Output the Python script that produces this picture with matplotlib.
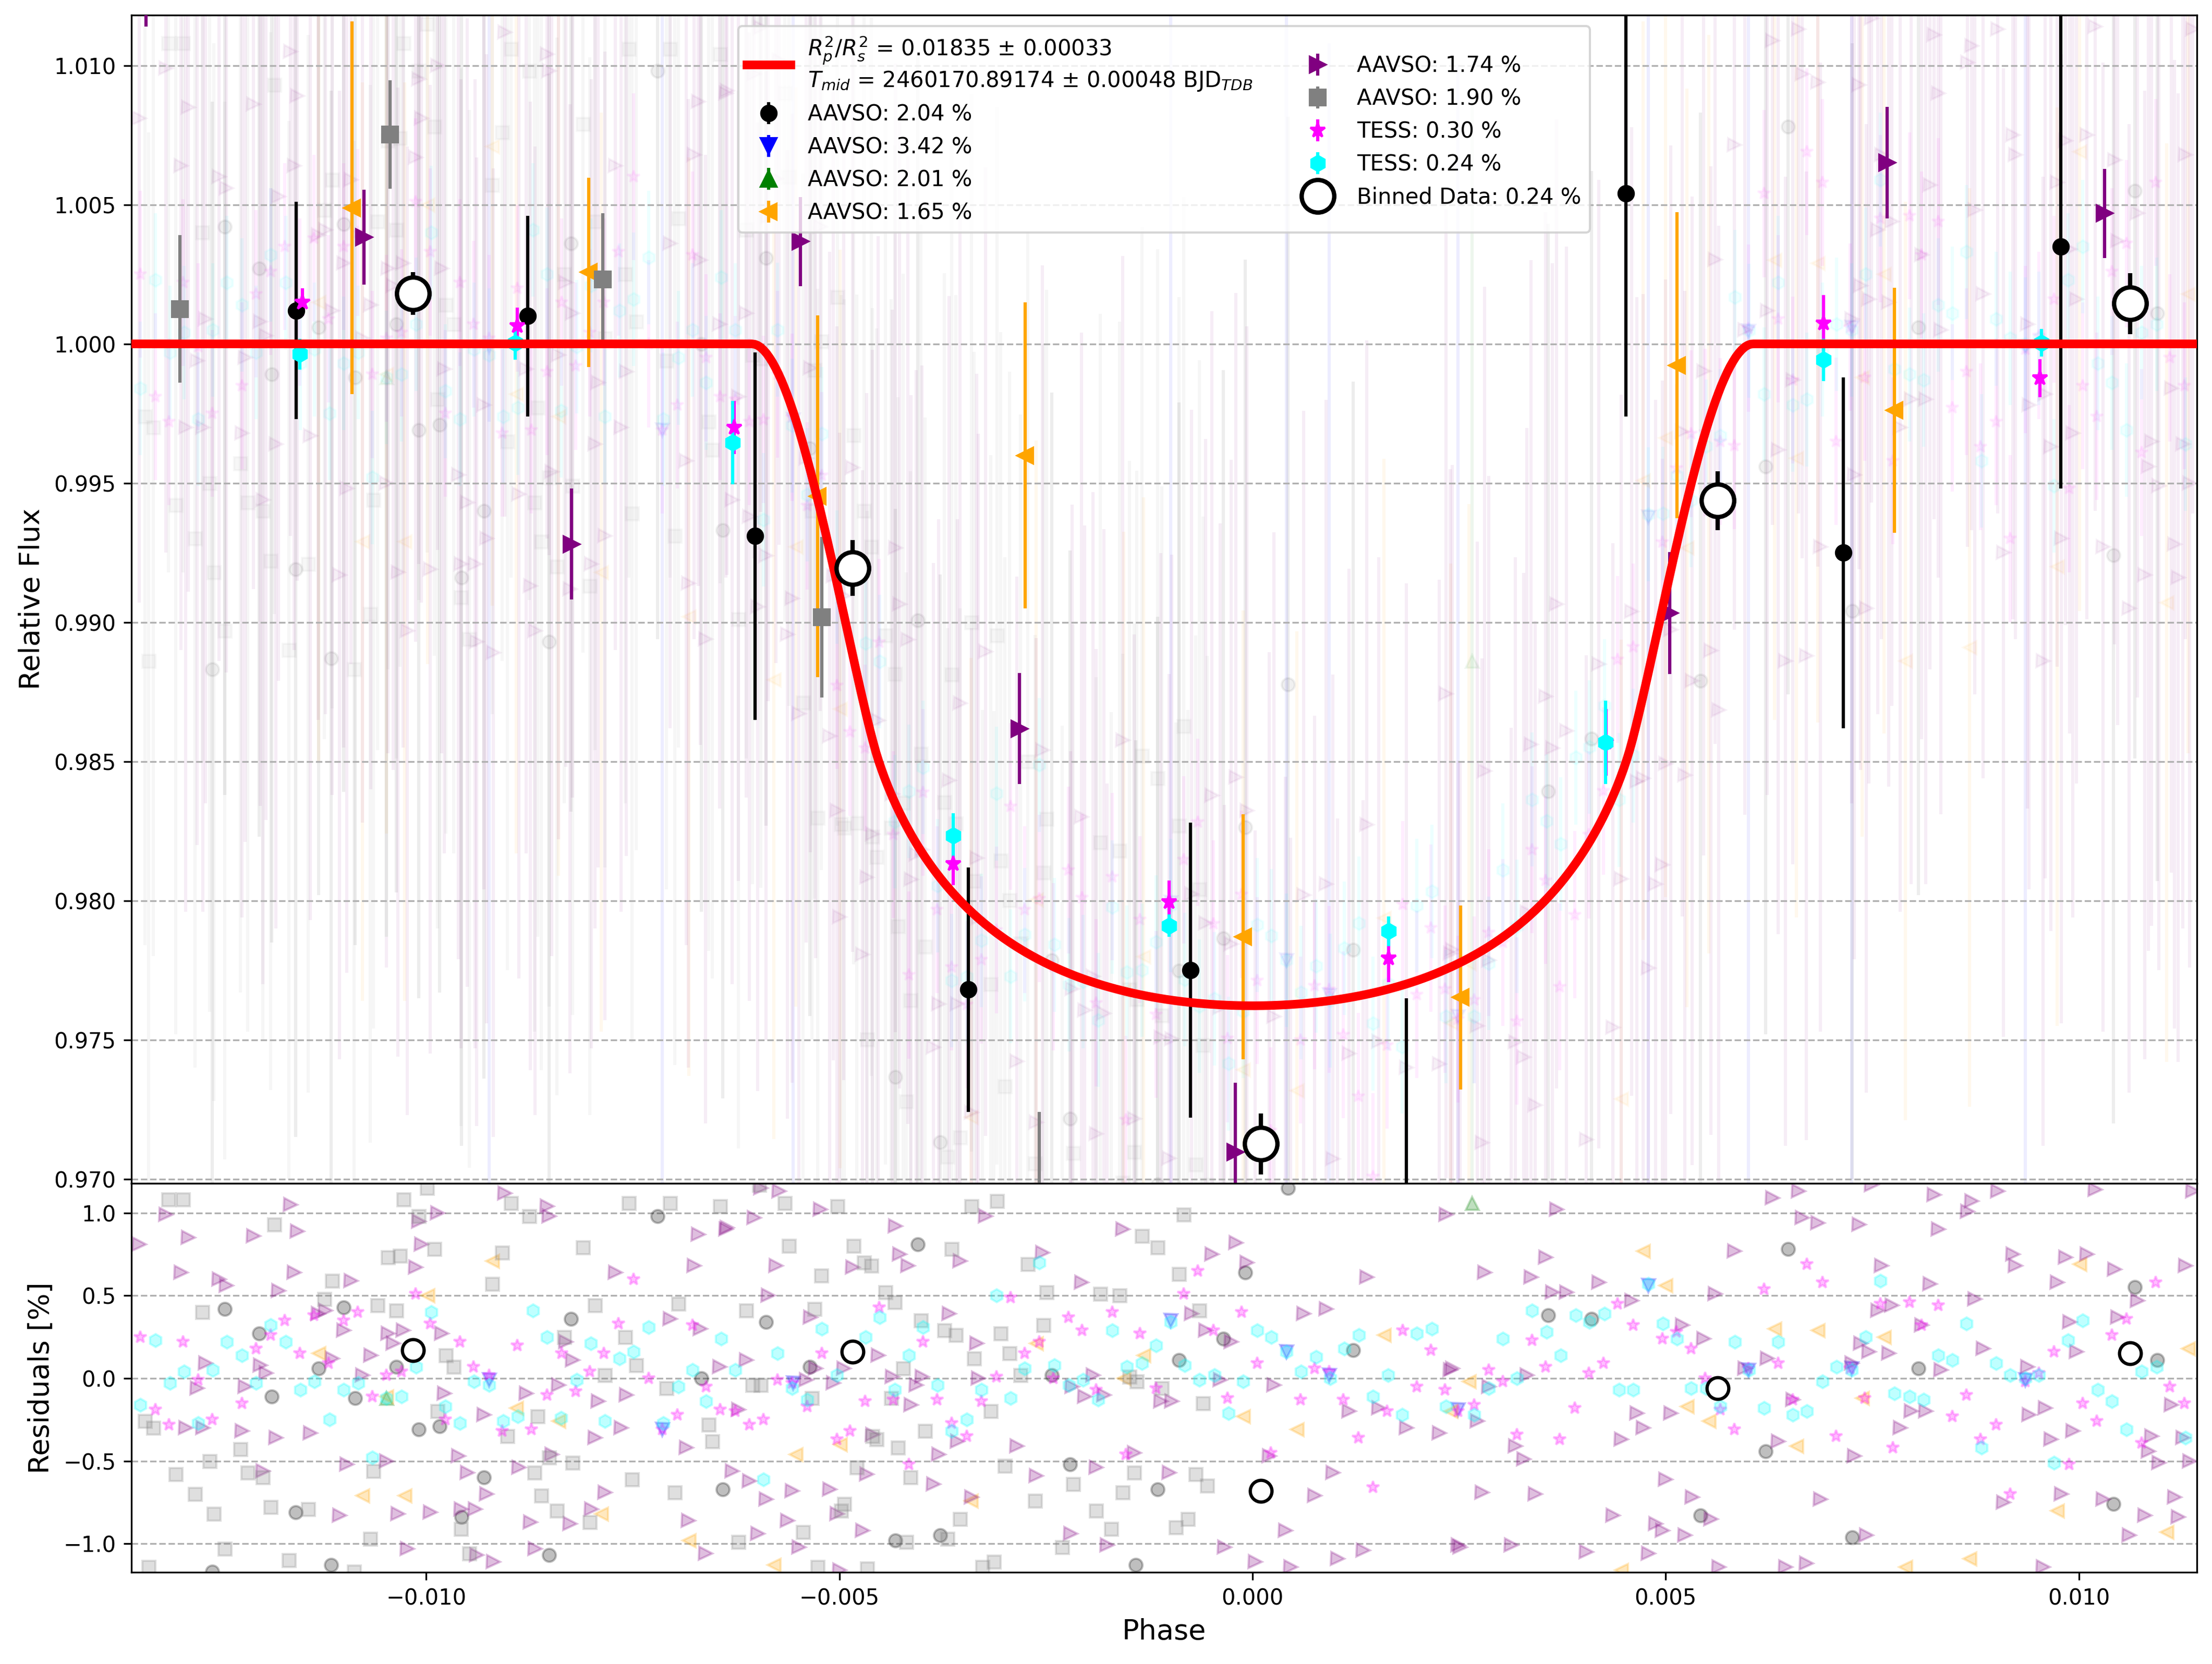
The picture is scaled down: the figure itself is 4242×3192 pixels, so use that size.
import numpy as np
import matplotlib.pyplot as plt

# transit model (Rp^2/Rs^2 from the fit, shape)
rp2 = 0.01835
a_rs = 29.4
b_imp = 0.2
u1, u2 = 0.45, 0.52


def transit_flux(phase):
    phase = np.atleast_1d(np.asarray(phase, dtype=float))
    k = np.sqrt(rp2)
    ang = 2 * np.pi * phase
    z = np.sqrt((a_rs * np.sin(ang)) ** 2 + (b_imp * np.cos(ang)) ** 2)
    n = 100
    g = (np.arange(n) + 0.5) / n * 2 * k - k
    gx, gy = np.meshgrid(g, g)
    inside = gx ** 2 + gy ** 2 <= k ** 2
    gx, gy = gx[inside], gy[inside]
    dA = (2 * k / n) ** 2
    r2 = (z[:, None] + gx[None, :]) ** 2 + gy[None, :] ** 2
    mu = np.sqrt(np.clip(1 - r2, 0, None))
    inten = np.where(r2 < 1, 1 - u1 * (1 - mu) - u2 * (1 - mu) ** 2, 0.0)
    blocked = inten.sum(axis=1) * dA
    return 1 - blocked / (np.pi * (1 - u1 / 3 - u2 / 6))


# ---- raw data: phase and residual [%] per dataset ----
purple_ph = [-0.01347, -0.01315, -0.01288, -0.01297, -0.01251, -0.01242, -0.01209, -0.01179, -0.01164, -0.01156,
             -0.01160, -0.01267, -0.01277, -0.01291, -0.01270, -0.01219, -0.01223, -0.01201, -0.01194, -0.01182,
             -0.01140, -0.01122, -0.01131, -0.01100, -0.01091, -0.01114, -0.01067, -0.01077, -0.01046, -0.01028,
             -0.01040, -0.01013, -0.01009, -0.01006, -0.00986, -0.00981, -0.00978, -0.00961, -0.00950, -0.00927,
             -0.00930, -0.00888, -0.00879, -0.00905, -0.00854, -0.00851, -0.00831, -0.00823, -0.00840, -0.00792,
             -0.00796, -0.00771, -0.00758, -0.00764, -0.00685, -0.00676, -0.00671, -0.00705, -0.00668, -0.00645,
             -0.00637, -0.00683, -0.00662, -0.00826, -0.00874, -0.00939, -0.00919, -0.00868, -0.00800, -0.00784,
             -0.00995, -0.01034, -0.01023, -0.01048, -0.01096, -0.01105, -0.01198, -0.00958, -0.00848, -0.00941,
             -0.00595, -0.00573, -0.00603, -0.00636, -0.00523, -0.00432, -0.00577, -0.00484, -0.00427, -0.00417,
             -0.00354, -0.00323, -0.00254, -0.00157, -0.00207, -0.00020, -0.00049, -0.00007, 0.00138, 0.00234,
             -0.00586, -0.00535, -0.00367, -0.00334, -0.00453, -0.00613, -0.00495, -0.00529, -0.00540, -0.00507,
             -0.00436, -0.00400, -0.00407, -0.00332, -0.00413, -0.00622, -0.00193, -0.00218, -0.00203, -0.00180,
             -0.00111, -0.00098, -0.00074, -0.00057, -0.00026, -0.00039, 0.00026, 0.00062, 0.00089, 0.00239,
             0.00117, 0.00153, 0.00186, 0.00226, -0.00460, -0.00357, -0.00285, -0.00380, -0.00143, 0.00020,
             -0.00630, -0.00609, -0.00557, -0.00512, -0.00467, -0.00386, -0.00262, -0.00189, -0.00101, 0.00097,
             0.00075, -0.00589, -0.00503, -0.00563, -0.00599, -0.00472, -0.00340, -0.00220, -0.00549, -0.00176,
             -0.00034, 0.00040, 0.00003, 0.00046, 0.00103, 0.00134, 0.00249, -0.00500,
             0.00368, 0.00629, 0.00661, 0.00749, 0.00825, 0.00870, 0.00865, 0.00902, 0.01020, 0.01138,
             0.00665, 0.00684, 0.00734, 0.00830, 0.00583, 0.00355, 0.00281, 0.00337, 0.00419, 0.00363,
             0.00380, 0.00459, 0.00560, 0.00761, 0.00820, 0.00920, 0.00923, 0.00984, 0.01010, 0.01043,
             0.01129, 0.00974, 0.00874, 0.01071, 0.00774, 0.00757, 0.00989, 0.01047, 0.00810, 0.00520,
             0.00546, 0.00736, 0.00746, 0.00770, 0.00884, 0.00997, 0.00623, 0.00596, 0.00725, 0.00938,
             0.00833, 0.00242, 0.00332, 0.00286, 0.00654, 0.00465, 0.00506, 0.00797, 0.00815, 0.00940,
             0.00959, 0.01112, 0.00272, 0.00473, 0.00784, 0.00993, 0.00318, 0.00446, 0.00636, 0.00966,
             0.01088, 0.01126, 0.01084, 0.00328, 0.00728, 0.01097, 0.01134, 0.00500, 0.00278, 0.00342,
             0.00532, 0.00687, 0.00909, 0.00979, 0.01029, 0.01116, 0.00436, 0.00488, 0.00496, 0.00555,
             0.00523, 0.00743, 0.01080, 0.01120, 0.01061, 0.00251, 0.00313, 0.00404, 0.00479, 0.00564,
             0.00645, 0.00670, 0.00957]
purple_res = [0.81, 0.99, 0.85, 0.64, 0.60, 0.56, 0.86, 0.53, 1.05, 0.89,
              0.64, 0.09, -0.06, -0.30, -0.30, -0.05, -0.32, 0.08, 0.03, -0.36,
              -0.33, 0.41, 0.39, 0.29, 0.59, 0.12, 0.14, 0.02, 0.27, 0.29,
              0.21, 0.67, 0.95, 0.81, 1.00, 0.27, -0.09, -0.47, -0.57, -0.70,
              -0.22, -0.54, -0.09, 1.12, 1.04, 0.98, 0.22, 0.11, -0.04, -0.14,
              -0.36, 0.64, -0.10, -0.30, -0.42, 0.68, 0.87, 0.36, 0.30, 0.07,
              0.90, -0.86, -1.06, -0.88, -0.87, -1.07, -1.11, -1.03, -0.79, -0.69,
              -0.81, -0.82, -1.03, -0.50, -0.52, -0.83, -0.56, -0.79, -0.46, -0.79,
              1.15, 1.13, 0.97, 0.91, 1.02, 0.92, 0.68, 0.67, 0.75, 0.68,
              0.71, 0.98, 0.76, 0.90, 0.58, 0.82, 0.75, 0.70, 0.61, 0.99,
              0.50, 0.37, 0.39, 0.21, 0.14, 0.11, 0.06, 0.06, -0.01, -0.03,
              0.01, 0.01, -0.04, 0.00, -0.16, -0.19, 0.02, -0.05, -0.11, -0.10,
              -0.14, -0.14, 0.39, 0.29, 0.22, -0.01, -0.04, 0.39, 0.42, 0.05,
              -0.20, -0.18, -0.30, -0.33, -0.34, -0.38, -0.41, -0.46, -0.45, -0.47,
              -0.56, -0.62, -0.68, -0.67, -0.58, -0.64, -0.59, -0.54, -0.57, -0.57,
              -0.71, -0.73, -0.82, -0.86, -0.94, -0.92, -0.72, -0.94, -1.02, -1.01,
              -1.02, -0.92, -1.11, -1.14, -1.09, -1.04, -1.01, -1.16,
              1.02, 1.09, 1.13, 1.17, 1.11, 1.07, 1.01, 1.13, 1.14, 1.13,
              0.97, 0.94, 0.93, 0.90, 0.77, 0.73, 0.64, 0.61, 0.58, 0.52,
              0.52, 0.47, 0.51, 0.68, 0.57, 0.75, 0.68, 0.73, 0.75, 0.66,
              0.68, 0.58, 0.48, 0.47, 0.44, 0.41, 0.34, 0.37, 0.32, 0.32,
              0.24, 0.21, 0.16, 0.15, 0.18, 0.16, 0.12, 0.06, 0.09, 0.07,
              0.05, 0.06, 0.02, -0.05, -0.13, -0.21, -0.21, -0.20, -0.20, -0.22,
              -0.18, -0.16, -0.26, -0.30, -0.30, -0.32, -0.41, -0.37, -0.38, -0.37,
              -0.35, -0.36, -0.44, -0.49, -0.47, -0.51, -0.50, -0.61, -0.69, -0.70,
              -0.72, -0.73, -0.75, -0.70, -0.73, -0.72, -0.83, -0.88, -0.92, -0.85,
              -0.95, -0.95, -0.83, -0.84, -0.95, -1.02, -1.01, -1.05, -1.06, -1.14,
              -1.14, -1.12, -1.14]

gray_ph = [-0.01312, -0.01294, -0.01184, -0.01271, -0.01123, -0.01114, -0.01059, -0.01036, -0.01046, -0.01032,
           -0.01027, -0.01009, -0.00999, -0.00990, -0.00920, -0.00908, -0.00897, -0.00875, -0.00810, -0.00796,
           -0.00755, -0.00705, -0.00695, -0.00644, -0.00759, -0.00746, -0.00833, -0.00784, -0.00976, -0.00967,
           -0.00986, -0.00865, -0.00902, -0.00709, -0.00658, -0.00654, -0.01340, -0.01330, -0.01225, -0.01262,
           -0.01303, -0.01216, -0.01198, -0.01280, -0.01257, -0.01188, -0.01143, -0.01064, -0.00851, -0.00823,
           -0.00869, -0.00861, -0.00842, -0.00802, -0.00751, -0.00699, -0.01068, -0.01244, -0.01166, -0.01336,
           -0.01087, -0.00958, -0.00948,
           -0.00597, -0.00566, -0.00502, -0.00340, -0.00309, -0.00083, -0.00134, -0.00115, -0.00561, -0.00483,
           -0.00470, -0.00461, -0.00364, -0.00272, -0.00522, -0.00089, -0.00444, -0.00433, -0.00249, -0.00184,
           -0.00161, -0.00613, -0.00530, -0.00401, -0.00373, -0.00359, -0.00305, -0.00253, -0.00064, -0.00337,
           -0.00294, -0.00423, -0.00281, -0.00605, -0.00595, -0.00149, -0.00140, -0.00110, -0.00533, -0.00437,
           -0.00317, -0.00060, -0.00460, -0.00455, -0.00429, -0.00396, -0.00300, -0.00479, -0.00414, -0.00217,
           -0.00143, -0.00157, -0.00069, -0.00055, -0.00263, -0.00494, -0.00498, -0.00354, -0.00189, -0.00544,
           -0.00171, -0.00093, -0.00078, -0.00622, -0.00419, -0.00369, -0.00230, -0.00526, -0.00466, -0.00327,
           -0.00313]
gray_res = [1.08, 1.08, 0.93, 0.40, 0.48, 0.59, 0.44, 0.41, 0.73, 0.74,
            1.08, 0.98, 1.15, 0.78, 0.57, 0.76, 1.06, 0.98, 0.79, 0.44,
            1.06, 1.06, 0.45, 1.04, 0.25, 0.08, 0.25, 0.02, 0.14, 0.07,
            -0.20, -0.23, -0.35, -0.06, -0.28, -0.38, -0.26, -0.30, -0.43, -0.50,
            -0.58, -0.57, -0.60, -0.70, -0.82, -0.78, -0.79, -0.56, -0.48, -0.51,
            -0.57, -0.71, -0.80, -0.87, -0.61, -0.69, -0.97, -1.03, -1.10, -1.14,
            -1.17, -0.91, -1.06,
            1.17, 1.06, 1.04, 1.04, 1.07, 0.99, 0.86, 0.79, 0.80, 0.80,
            0.70, 0.68, 0.78, 0.69, 0.62, 0.63, 0.52, 0.46, 0.52, 0.51,
            0.50, 0.41, 0.42, 0.35, 0.29, 0.26, 0.27, 0.32, 0.41, 0.12,
            0.15, 0.06, 0.02, -0.04, -0.04, 0.01, -0.02, -0.06, -0.12, -0.12,
            -0.20, -0.15, -0.35, -0.37, -0.42, -0.32, -0.53, -0.54, -0.60, -0.64,
            -0.57, -0.69, -0.58, -0.65, -0.74, -0.76, -0.80, -0.85, -0.80, -0.93,
            -0.91, -0.90, -0.85, -0.99, -0.99, -0.97, -1.02, -1.14, -1.15, -1.14,
            -1.11]

black_ph = [-0.01244, -0.01100, -0.01202, -0.01130, -0.01036, -0.01187, -0.01086, -0.01009, -0.00984, -0.00825,
            -0.00720, -0.00667, -0.00930, -0.01158, -0.00957, -0.01115, -0.00851, -0.00641, -0.01259,
            0.00043, -0.00405, -0.00009, -0.00589, -0.00536, -0.00243, -0.00089, -0.00035, 0.00122, -0.00221,
            -0.00115, -0.00432, -0.00378, -0.00141,
            0.00648, 0.01068, 0.00358, 0.00410, 0.00806, 0.01095, 0.00621, 0.00542, 0.00726, 0.01042]
black_res = [0.42, 0.43, 0.27, 0.06, 0.07, -0.11, -0.12, -0.31, -0.29, 0.36,
             0.98, 0.00, -0.60, -0.81, -0.84, -1.13, -1.07, -0.67, -1.17,
             1.15, 0.81, 0.64, 0.34, 0.07, 0.02, 0.11, 0.24, 0.17, -0.52,
             -0.67, -0.98, -0.95, -1.13,
             0.78, 0.55, 0.38, 0.36, 0.06, 0.11, -0.44, -0.83, -0.96, -0.76]

star_ph = [-0.01346, -0.01294, -0.01276, -0.01206, -0.01188, -0.01171, -0.01153, -0.01136, -0.01118, -0.01100,
           -0.01083, -0.01013, -0.00995, -0.00959, -0.00943, -0.00924, -0.00890, -0.00836, -0.00819, -0.00802,
           -0.00785, -0.00767, -0.00749, -0.00731, -0.00678, -0.00661, -0.00644, -0.01311, -0.01259, -0.01223,
           -0.01065, -0.01048, -0.01030, -0.00977, -0.00908, -0.00873, -0.00854, -0.00714, -0.00696, -0.01328,
           -0.00066, -0.00083, -0.00293, -0.00452, -0.00223, -0.00170, -0.00013, -0.00206, -0.00136, -0.00399,
           -0.00258, -0.00047, -0.00521, -0.00276, 0.00006, 0.00075, 0.00093, 0.00182, 0.00216, -0.00575,
           -0.00557, -0.00310, -0.00241, -0.00189, -0.00117, 0.00199, 0.00233, -0.00626, -0.00539, -0.00469,
           -0.00435, -0.00382, -0.00328, -0.00030, 0.00058, 0.00110, 0.00163, -0.00609, -0.00592, -0.00364,
           -0.00346, -0.00487, -0.00503, 0.00128, -0.00416, -0.00153, 0.00022, 0.00146,
           0.00671, 0.00619, 0.00690, 0.01093, 0.00442, 0.00760, 0.00795, 0.00830, 0.00461, 0.00810,
           0.01058, 0.00496, 0.00513, 0.00338, 0.00531, 0.01040, 0.00970, 0.00286, 0.00303, 0.00355,
           0.00407, 0.00425, 0.00548, 0.00636, 0.00600, 0.00723, 0.00935, 0.00952, 0.01110, 0.00864,
           0.00741, 0.00654, 0.00268, 0.00249, 0.00390, 0.01005, 0.01128, 0.00566, 0.00847, 0.00900,
           0.01022, 0.00583, 0.00320, 0.00372, 0.00706, 0.00881, 0.00775, 0.01076, 0.00988, 0.00917]
star_res = [0.25, 0.22, -0.01, 0.18, 0.26, 0.35, 0.15, 0.38, 0.09, 0.35,
            0.40, 0.51, 0.33, 0.22, 0.07, 0.02, 0.20, 0.15, -0.08, 0.04,
            0.15, 0.33, 0.60, 0.00, 0.32, -0.05, -0.19, -0.28, -0.25, -0.15,
            -0.11, 0.02, 0.04, -0.25, -0.32, -0.31, -0.10, -0.31, -0.22, -0.19,
            0.65, 0.51, 0.49, 0.43, 0.37, 0.40, 0.40, 0.29, 0.27, 0.22,
            0.22, 0.29, 0.15, 0.15, 0.09, 0.06, 0.04, 0.29, 0.17, -0.01,
            -0.03, 0.01, 0.00, -0.07, -0.06, -0.05, -0.07, -0.20, -0.17, -0.14,
            -0.13, -0.13, -0.14, -0.12, -0.13, -0.13, -0.20, -0.28, -0.25, -0.27,
            -0.35, -0.32, -0.37, -0.36, -0.52, -0.46, -0.45, -0.66,
            0.69, 0.54, 0.58, 0.58, 0.45, 0.45, 0.46, 0.44, 0.32, 0.32,
            0.36, 0.24, 0.28, 0.23, 0.18, 0.26, 0.16, 0.05, -0.02, 0.07,
            0.03, 0.09, 0.00, 0.09, 0.06, 0.06, -0.02, 0.03, -0.05, -0.10,
            -0.12, -0.13, -0.16, -0.20, -0.18, -0.15, -0.15, -0.19, -0.23, -0.28,
            -0.26, -0.31, -0.34, -0.37, -0.35, -0.37, -0.42, -0.39, -0.52, -0.70]

hex_ph = [-0.01346, -0.01328, -0.01310, -0.01293, -0.01276, -0.01258, -0.01241, -0.01223, -0.01206, -0.01188,
          -0.01170, -0.01152, -0.01135, -0.01117, -0.01100, -0.01082, -0.01065, -0.01048, -0.01030, -0.01012,
          -0.00994, -0.00977, -0.00959, -0.00942, -0.00924, -0.00907, -0.00889, -0.00871, -0.00854, -0.00837,
          -0.00818, -0.00801, -0.00784, -0.00766, -0.00749, -0.00731, -0.00713, -0.00695, -0.00678, -0.00661,
          -0.00643,
          -0.00626, -0.00575, -0.00557, -0.00539, -0.00521, -0.00503, -0.00468, -0.00451, -0.00433, -0.00416,
          -0.00399, -0.00381, -0.00364, -0.00346, -0.00328, -0.00310, -0.00293, -0.00276, -0.00258, -0.00240,
          -0.00222, -0.00205, -0.00187, -0.00170, -0.00152, -0.00134, -0.00117, -0.00099, -0.00082, -0.00064,
          -0.00046, -0.00029, -0.00011, 0.00006, 0.00023, 0.00041, 0.00059, 0.00077, 0.00094, 0.00111,
          0.00129, 0.00146, 0.00164, 0.00181, 0.00199, 0.00217, 0.00234, -0.00592,
          0.00268, 0.00286, 0.00303, 0.00320, 0.00338, 0.00356, 0.00373, 0.00391, 0.00408, 0.00426,
          0.00444, 0.00461, 0.00479, 0.00497, 0.00514, 0.00531, 0.00549, 0.00566, 0.00584, 0.00601,
          0.00619, 0.00636, 0.00654, 0.00671, 0.00690, 0.00707, 0.00725, 0.00742, 0.00760, 0.00777,
          0.00795, 0.00812, 0.00830, 0.00847, 0.00864, 0.00882, 0.00900, 0.00917, 0.00935, 0.00952,
          0.00970, 0.00987, 0.01005, 0.01023, 0.01040, 0.01058, 0.01076, 0.01094, 0.01129]
hex_res = [-0.16, 0.23, -0.03, 0.04, -0.27, 0.05, 0.22, 0.14, -0.03, 0.32,
           0.22, -0.07, -0.02, -0.25, -0.07, -0.03, -0.48, -0.12, -0.11, 0.07,
           0.40, -0.17, -0.27, -0.02, -0.04, -0.26, -0.23, 0.41, 0.25, -0.24,
           -0.01, 0.21, -0.26, 0.12, 0.16, 0.31, -0.27, -0.05, 0.05, -0.14,
           0.24,
           0.05, 0.15, -0.06, -0.13, 0.30, 0.02, 0.25, 0.37, -0.07, 0.14,
           0.31, -0.04, -0.32, -0.25, -0.07, 0.50, -0.12, 0.06, 0.70, 0.08,
           -0.04, -0.01, -0.13, 0.29, 0.07, 0.09, 0.20, 0.34, 0.08, -0.01,
           0.02, -0.21, -0.02, 0.29, 0.25, 0.16, 0.04, 0.13, 0.00, 0.18,
           0.26, -0.11, 0.02, -0.22, 0.27, 0.30, -0.17, -0.61,
           -0.22, -0.06, 0.24, 0.00, 0.41, 0.28, 0.14, 0.38, 0.34, 0.39,
           -0.07, -0.07, 0.57, 0.33, 0.24, -0.06, -0.06, -0.17, 0.22, 0.05,
           -0.18, 0.22, -0.22, -0.20, -0.02, 0.07, 0.05, 0.25, 0.59, -0.09,
           -0.11, -0.13, 0.14, 0.11, 0.33, -0.42, 0.09, 0.02, 0.00, 0.02,
           -0.51, 0.23, 0.35, -0.07, -0.14, -0.31, 0.04, 0.07, -0.36]

orange_ph = [-0.01130, -0.00998, -0.00920, -0.01048, -0.00891, -0.00840, -0.00788, -0.01077, -0.01026, -0.00682,
             -0.00262, -0.00156, -0.00132, -0.00011, 0.00054, 0.00159, 0.00240, -0.00499, -0.00553, -0.00341,
             -0.00579, 0.00473, 0.00500, 0.00632, 0.00684, 0.00764, 0.01001, 0.00262, 0.00526, 0.00552,
             0.00658, 0.00738, 0.01132, 0.00974, 0.01106, 0.00868, 0.00790, 0.00446]
orange_res = [0.15, 0.50, 0.71, -0.11, -0.18, -0.26, -0.82, -0.71, -0.71, -0.98,
              0.21, 0.00, 0.14, -0.23, -0.31, 0.26, -0.20, -0.40, -0.46, -0.74,
              -1.13, 0.77, 0.56, 0.30, 0.29, 0.25, 0.69, -0.02, -0.17, -0.26,
              -0.41, -0.12, 0.18, -0.80, -0.93, -1.09, -1.14, -1.16]

blue_ph = [-0.00924, -0.00714, -0.00556, -0.00099, 0.00041, 0.00093, 0.00249, 0.00479, 0.00600, 0.00725, 0.00935]
blue_res = [-0.01, -0.31, -0.03, 0.35, 0.16, 0.02, -0.19, 0.56, 0.05, 0.06, -0.01]

green_ph = [-0.01048, 0.00266]
green_res = [-0.12, 1.06]

# ---- binned points per dataset (main panel) ----
b_black_ph = [-0.01157, -0.00877, -0.00602, -0.00344, -0.00075, 0.00186, 0.00452, 0.00715, 0.00978]
b_black_fl = [1.0012, 1.0010, 0.9931, 0.9768, 0.9775, 0.9665, 1.0054, 0.9925, 1.0035]
b_black_err = [0.0039, 0.0036, 0.0066, 0.0044, 0.0053, 0.0100, 0.0080, 0.0063, 0.0087]

b_gray_ph = [-0.01298, -0.01044, -0.00786, -0.00521, -0.00258]
b_gray_fl = [1.00125, 1.00752, 1.00231, 0.99018, 0.9685]
b_gray_err = [0.00265, 0.00195, 0.00238, 0.00288, 0.0039]

b_orange_ph = [-0.01090, -0.00803, -0.00526, -0.00275, -0.00011, 0.00252, 0.00514, 0.00777]
b_orange_fl = [1.00489, 1.00257, 0.99453, 0.99599, 0.97870, 0.97652, 0.99923, 0.99761]
b_orange_err = [0.0067, 0.0034, 0.0065, 0.0055, 0.0044, 0.0033, 0.0055, 0.0044]

b_purple_ph = [-0.01339, -0.01075, -0.00824, -0.00547, -0.00282, -0.00021, 0.00505, 0.00768, 0.01031]
b_purple_fl = [1.0132, 1.00383, 0.99281, 1.00368, 0.98618, 0.97096, 0.99033, 1.00651, 1.00469]
b_purple_err = [0.0018, 0.0017, 0.0020, 0.0016, 0.0020, 0.0025, 0.0022, 0.0020, 0.0016]

b_star_ph = [-0.01150, -0.00890, -0.00627, -0.00362, -0.00101, 0.00165, 0.00428, 0.00691, 0.00953]
b_star_fl = [1.00150, 1.00064, 0.99700, 0.98133, 0.97996, 0.97794, 0.98568, 1.00075, 0.99877]
b_star_err = [0.0005, 0.00066, 0.00096, 0.00078, 0.00076, 0.00086, 0.0012, 0.0010, 0.00068]

b_hex_ph = [-0.01153, -0.00892, -0.00629, -0.00362, -0.00101, 0.00165, 0.00427, 0.00691, 0.00955]
b_hex_fl = [0.99963, 1.00004, 0.99645, 0.98234, 0.97910, 0.97890, 0.98568, 0.99943, 1.00004]
b_hex_err = [0.00056, 0.0006, 0.0015, 0.0008, 0.0004, 0.00053, 0.0015, 0.00076, 0.0005]

bin_ph = [-0.01016, -0.00484, 0.00010, 0.00563, 0.01062]
bin_fl = [1.00181, 0.99195, 0.97126, 0.99437, 1.00145]
bin_err = [0.00076, 0.0010, 0.0011, 0.00106, 0.0011]
bin_res = [0.17, 0.16, -0.68, -0.06, 0.15]

model_label = (r'$R_{p}^{2}/R_{s}^{2}$ = 0.01835 ± 0.00033' + '\n'
               + r'$T_{mid}$ = 2460170.89174 ± 0.00048 BJD$_{TDB}$')

# raw sets: phase, residuals, color, marker, typical error (from legend scatter)
raw_sets = [
    (black_ph, black_res, 'black', 'o', 0.0204),
    (blue_ph, blue_res, 'blue', 'v', 0.0342),
    (green_ph, green_res, 'green', '^', 0.0201),
    (orange_ph, orange_res, 'orange', '<', 0.0165),
    (purple_ph, purple_res, 'purple', '>', 0.0174),
    (gray_ph, gray_res, 'gray', 's', 0.0190),
    (star_ph, star_res, 'magenta', '*', 0.0030),
    (hex_ph, hex_res, 'cyan', 'h', 0.0024),
]

binned_sets = [
    (b_black_ph, b_black_fl, b_black_err, 'black', 'o', 'AAVSO: 2.04 %'),
    ([], [], [], 'blue', 'v', 'AAVSO: 3.42 %'),
    ([], [], [], 'green', '^', 'AAVSO: 2.01 %'),
    (b_orange_ph, b_orange_fl, b_orange_err, 'orange', '<', 'AAVSO: 1.65 %'),
    (b_purple_ph, b_purple_fl, b_purple_err, 'purple', '>', 'AAVSO: 1.74 %'),
    (b_gray_ph, b_gray_fl, b_gray_err, 'gray', 's', 'AAVSO: 1.90 %'),
    (b_star_ph, b_star_fl, b_star_err, 'magenta', '*', 'TESS: 0.30 %'),
    (b_hex_ph, b_hex_fl, b_hex_err, 'cyan', 'h', 'TESS: 0.24 %'),
]

fig = plt.figure(figsize=(4242 / 300, 3192 / 300), dpi=300)
gs = fig.add_gridspec(2, 1, height_ratios=[3, 1], hspace=0,
                      left=0.0593, right=0.9932, top=0.9909, bottom=0.0550)
ax = fig.add_subplot(gs[0])
axr = fig.add_subplot(gs[1], sharex=ax)

for ph, res, c, m, err in raw_sets:
    ph = np.array(ph)
    res = np.array(res)
    fl = transit_flux(ph) + res / 100
    ax.errorbar(ph, fl, yerr=err, fmt='none', ecolor=c, alpha=0.07, zorder=1)
    ax.plot(ph, fl, m, color=c, alpha=0.06, ls='none', zorder=1)
    axr.plot(ph, res, m, color=c, alpha=0.25, ls='none', zorder=2)

xx = np.linspace(-0.01357, 0.01143, 700)
line_model, = ax.plot(xx, transit_flux(xx), color='red', lw=4, zorder=5, label=model_label)

handles = [line_model]
for ph, fl, err, c, m, lab in binned_sets:
    h = ax.errorbar(ph, fl, yerr=err, fmt=m, color=c, ms=7, zorder=4, label=lab)
    handles.append(h)

hb = ax.errorbar(bin_ph, bin_fl, yerr=bin_err, fmt='o', mfc='white', mec='black', ecolor='black',
                 ms=15, mew=2, elinewidth=2, zorder=6, label='Binned Data: 0.24 %')
handles.append(hb)
axr.plot(bin_ph, bin_res, 'o', mfc='white', mec='black', ms=10, mew=1.5, ls='none', zorder=6)

ax.set_xlim(-0.01357, 0.01143)
ax.set_ylim(0.96985, 1.01181)
axr.set_ylim(-1.174, 1.180)

ax.grid(axis='y', linestyle='--')
axr.grid(axis='y', linestyle='--')
ax.tick_params(labelbottom=False)
ax.set_ylabel('Relative Flux', fontsize=13)
axr.set_ylabel('Residuals [%]', fontsize=13)
axr.set_xlabel('Phase', fontsize=13)

ax.legend(handles, [h.get_label() for h in handles], ncol=2, loc='upper center', fontsize=10)

fig.savefig('out.png', dpi=300)
